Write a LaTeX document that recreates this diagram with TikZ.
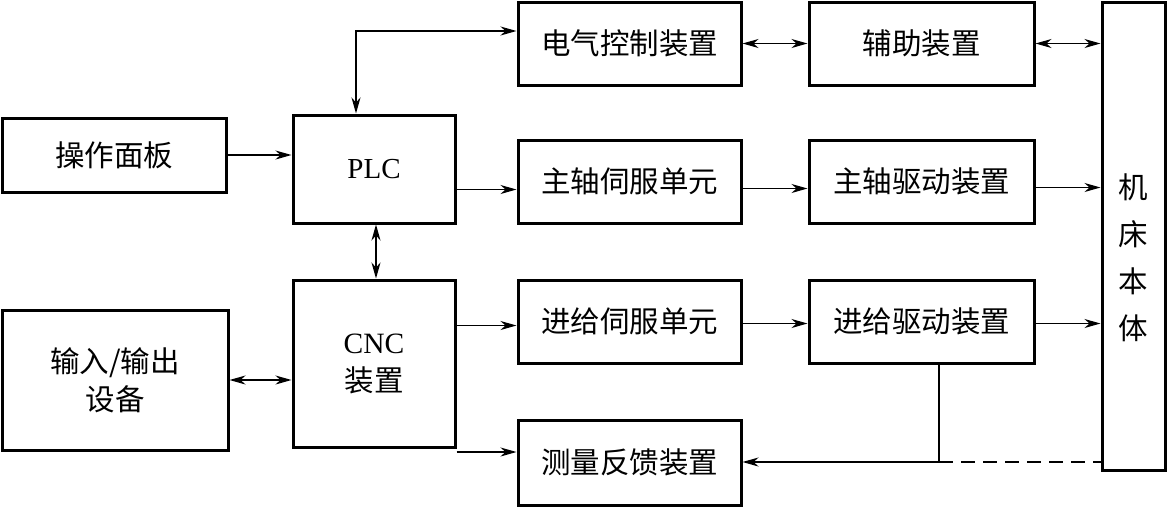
\documentclass[tikz,border=0pt]{standalone}
\usepackage{fontspec}
\setmainfont{Liberation Serif}
\newfontfamily\cjk{Noto Sans CJK SC}
\usetikzlibrary{arrows.meta,calc}
\begin{document}
\begin{tikzpicture}[x=1pt,y=-1pt,
  box/.style={draw,line width=3pt,inner sep=0pt,align=center,font=\fontsize{29.5pt}{38pt}\selectfont\cjk},
  conn/.style={line width=1.3pt},
  tip/.style={-{Stealth[length=16pt,width=9pt,inset=5pt]}},
  dtip/.style={{Stealth[length=16pt,width=9pt,inset=5pt]}-{Stealth[length=16pt,width=9pt,inset=5pt]}}]
\useasboundingbox (0,0) rectangle (1168,507);
\node[box,minimum width=223pt,minimum height=83pt] (elec) at (629.5,43.5) {电气控制装置};
\node[box,minimum width=225pt,minimum height=83pt] (aux) at (921.5,43.5) {辅助装置};
\node[box,minimum width=63pt,minimum height=468pt] (mach) at (1133.5,236) {};
\node[font=\fontsize{29.5pt}{47pt}\selectfont\cjk,align=center] (machtext) at (1133.5,258) {机\\床\\本\\体};
\node[box,minimum width=224pt,minimum height=74pt] (panel) at (114,155) {操作面板};
\node[box,minimum width=162pt,minimum height=108pt,font=\fontsize{29pt}{38pt}\selectfont] (plc) at (374,169) {PLC};
\node[box,minimum width=223pt,minimum height=83pt] (sserv) at (629.5,181.5) {主轴伺服单元};
\node[box,minimum width=225pt,minimum height=83pt] (sdrv) at (921.5,181.5) {主轴驱动装置};
\node[box,minimum width=162pt,minimum height=167pt] (cnc) at (374,363.5) {{\rmfamily CNC}\\装置};
\node[box,minimum width=226pt,minimum height=140pt] (io) at (115,380) {输入/输出\\设备};
\node[box,minimum width=223pt,minimum height=83pt] (fserv) at (629.5,321.5) {进给伺服单元};
\node[box,minimum width=225pt,minimum height=83pt] (fdrv) at (921.5,321.5) {进给驱动装置};
\node[box,minimum width=223pt,minimum height=85pt] (meas) at (629.5,462.5) {测量反馈装置};
% connectors
\draw[conn,dtip] ([xshift=-18pt]plc.north) |- ([yshift=12.5pt]elec.west);
\draw[conn,dtip] (elec.east) -- (aux.west);
\draw[conn,dtip] (aux.east) -- (aux.east -| mach.west);
\draw[conn,tip] (panel.east) -- (panel.east -| plc.west);
\draw[conn,tip] ([yshift=-8pt]sserv.west -| plc.east) -- ([yshift=-8pt]sserv.west);
\draw[conn,tip] ([yshift=-7pt]sserv.east) -- ([yshift=-7pt]sdrv.west);
\draw[conn,tip] ([yshift=-6pt]sdrv.east) -- ([yshift=-6pt]sdrv.east -| mach.west);
\draw[conn,dtip] ([xshift=2pt]plc.south) -- ([xshift=2pt]cnc.north);
\draw[conn,dtip] (io.east) -- (io.east -| cnc.west);
\draw[conn,tip] ([yshift=-4pt]fserv.west -| cnc.east) -- ([yshift=-4pt]fserv.west);
\draw[conn,tip] ([yshift=-2pt]fserv.east) -- ([yshift=-2pt]fdrv.west);
\draw[conn,tip] ([yshift=-2pt]fdrv.east) -- ([yshift=-2pt]fdrv.east -| mach.west);
\draw[conn,tip] ([yshift=10.5pt]meas.west -| cnc.east) -- ([yshift=10.5pt]meas.west);
\coordinate (j) at (939,462);
\draw[conn] (fdrv.south -| j) -- (j);
\draw[conn,tip] (j) -- (j -| meas.east);
\draw[conn,dashed,dash pattern=on 14pt off 8pt] (j) -- (j -| mach.west);
\end{tikzpicture}
\end{document}
